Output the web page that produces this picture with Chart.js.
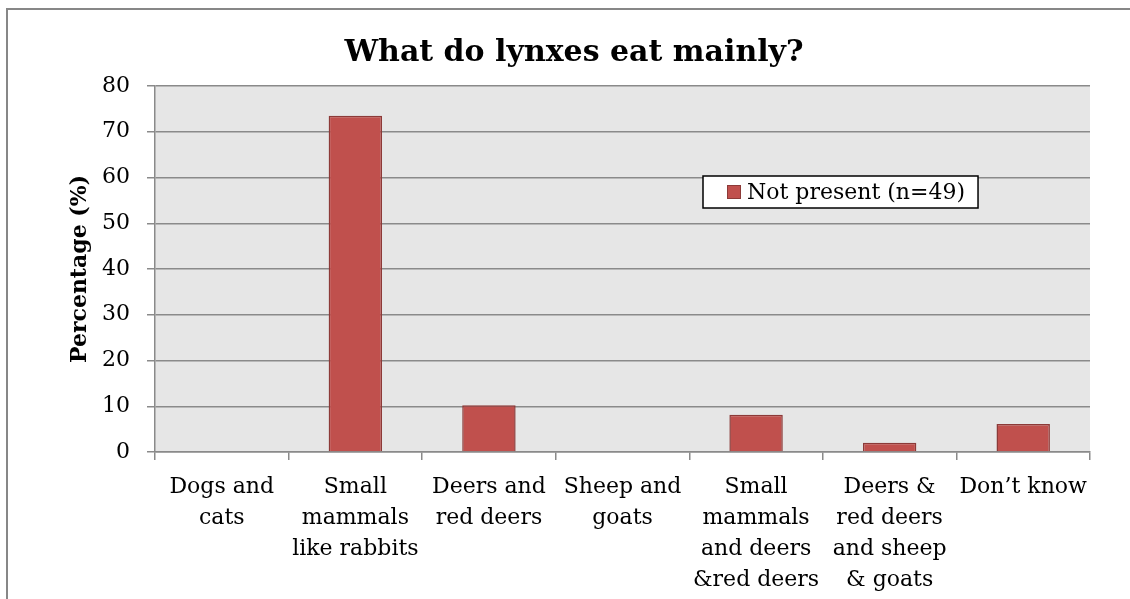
<!DOCTYPE html>
<html>
<head>
<meta charset="utf-8">
<script src="https://cdn.jsdelivr.net/npm/chart.js@4"></script>
<style>
  html, body { margin: 0; padding: 0; background: #fff; overflow: hidden; }
  #wrap { position: absolute; left: 6px; top: 8px; width: 1136px; height: 600px; border: 2px solid #878787; }
  canvas { display: block; }
</style>
</head>
<body>
<div id="wrap"><canvas id="c" width="1136" height="600"></canvas></div>
<script>
// categories and values (percent of n=49)
const categories = [
  ['Dogs and', 'cats'],
  ['Small', 'mammals', 'like rabbits'],
  ['Deers and', 'red deers'],
  ['Sheep and', 'goats'],
  ['Small', 'mammals', 'and deers', '&red deers'],
  ['Deers &', 'red deers', 'and sheep', '& goats'],
  ['Don\u2019t know']
];
const notPresent = [0, 73.47, 10.2, 0, 8.16, 2.04, 6.12];
const seriesName = 'Not present (n=49)';
const yTicks = [0, 10, 20, 30, 40, 50, 60, 70, 80];

const FONT = "'DejaVu Serif', serif";

const plotBg = {
  id: 'plotBg',
  // title is centred on the whole chart box, not only the padded part
  afterLayout(chart) {
    if (chart.titleBlock) { chart.titleBlock.left = 0; chart.titleBlock.right = 1132; }
  },
  beforeDraw(chart) {
    const { ctx, chartArea: a } = chart;
    ctx.save();
    ctx.fillStyle = '#e6e6e6';
    ctx.fillRect(a.left, a.top, a.right - a.left, a.bottom - a.top);
    ctx.restore();
  }
};

// legend box sitting inside the plot, like the original
const boxLegend = {
  id: 'boxLegend',
  afterDraw(chart) {
    const { ctx, chartArea: a } = chart;
    const ds = chart.data.datasets[0];
    const x = a.left + 548, y = a.top + 90, h = 32;
    ctx.save();
    ctx.font = '22px ' + FONT;
    const tw = ctx.measureText(ds.label).width;
    const w = 45 + tw + 12;
    ctx.fillStyle = '#fff';
    ctx.fillRect(x, y, w, h);
    ctx.strokeStyle = '#000';
    ctx.lineWidth = 1.5;
    ctx.strokeRect(x, y, w, h);
    ctx.fillStyle = ds.backgroundColor;
    ctx.fillRect(x + 24, y + 9, 14, 14);
    ctx.strokeStyle = ds.borderColor;
    ctx.lineWidth = 1;
    ctx.strokeRect(x + 24.5, y + 9.5, 13, 13);
    ctx.fillStyle = '#000';
    ctx.textBaseline = 'middle';
    ctx.fillText(ds.label, x + 44, y + h / 2 + 1);
    ctx.restore();
  }
};

new Chart(document.getElementById('c'), {
  type: 'bar',
  data: {
    labels: categories,
    datasets: [{
      label: seriesName,
      data: notPresent,
      backgroundColor: '#c0504d',
      borderColor: '#8c3a38',
      borderWidth: 1.5,
      barPercentage: 0.4,
      categoryPercentage: 1
    }]
  },
  options: {
    responsive: false,
    animation: false,
    layout: { padding: { left: 0, right: 54, top: 0, bottom: 0 } },
    plugins: {
      legend: { display: false },
      tooltip: { enabled: false },
      title: {
        display: true,
        text: 'What do lynxes eat mainly?',
        color: '#000',
        font: { family: FONT, size: 30, weight: 'bold' },
        padding: { top: 25, bottom: 15 }
      }
    },
    scales: {
      x: {
        grid: { display: true, drawOnChartArea: false, drawTicks: true, tickLength: 8, color: '#8a8a8a', lineWidth: 1.5, offset: true },
        border: { color: '#8a8a8a', width: 1.5 },
        ticks: { color: '#000', font: { family: FONT, size: 22, lineHeight: 1.4 }, padding: 12, maxRotation: 0, autoSkip: false },
        afterFit(s) { s.height = 158; }
      },
      y: {
        min: 0, max: 80,
        afterBuildTicks(s) { s.ticks = yTicks.map(v => ({ value: v })); },
        grid: { color: '#8a8a8a', lineWidth: 1.5, tickLength: 8 },
        border: { color: '#8a8a8a', width: 1.5 },
        ticks: { color: '#000', font: { family: FONT, size: 22 }, padding: 17 },
        title: { display: true, text: 'Percentage (%)', color: '#000', font: { family: FONT, size: 22, weight: 'bold' }, padding: { top: 59, bottom: 0 } },
        afterFit(s) { s.width = 147; }
      }
    }
  },
  plugins: [plotBg, boxLegend]
});
</script>
</body>
</html>
